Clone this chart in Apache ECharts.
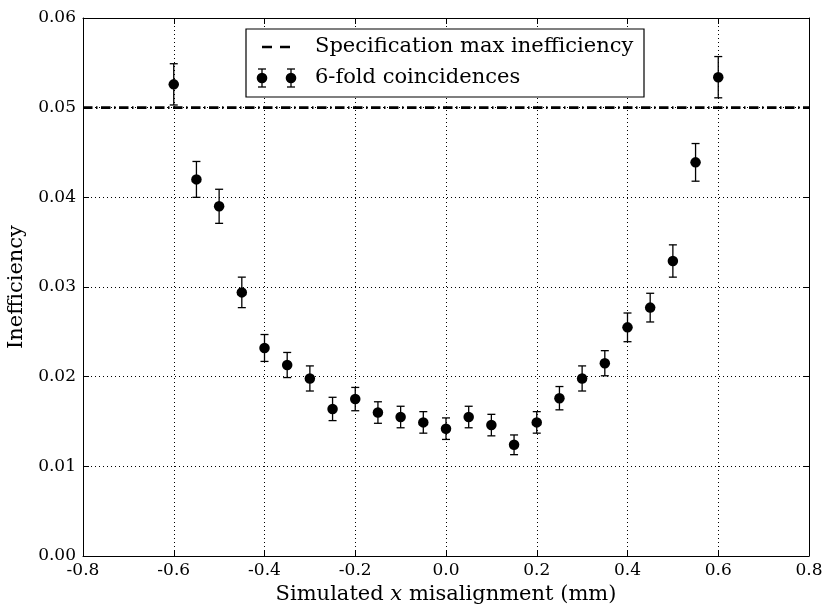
<!DOCTYPE html>
<html>
<head>
<meta charset="utf-8">
<script src="https://cdn.jsdelivr.net/npm/echarts@6/dist/echarts.min.js"></script>
<style>
  html, body { margin: 0; padding: 0; background: #ffffff; }
  #chart { width: 823px; height: 608px; }
</style>
</head>
<body>
<div id="chart"></div>
<script>
// Simulated misalignment (mm)
const misalignment = [-0.6, -0.55, -0.5, -0.45, -0.4, -0.35, -0.3, -0.25, -0.2, -0.15, -0.1, -0.05,
                      0.0, 0.05, 0.1, 0.15, 0.2, 0.25, 0.3, 0.35, 0.4, 0.45, 0.5, 0.55, 0.6];
// 6-fold coincidence inefficiency
const inefficiency = [0.0526, 0.0420, 0.0390, 0.0294, 0.0232, 0.0213, 0.0198, 0.0164, 0.0175, 0.0160, 0.0155, 0.0149,
                      0.0142, 0.0155, 0.0146, 0.0124, 0.0149, 0.0176, 0.0198, 0.0215, 0.0255, 0.0277, 0.0329, 0.0439, 0.0534];
// symmetric statistical uncertainty
const inefficiencyErr = [0.0023, 0.0020, 0.0019, 0.0017, 0.0015, 0.0014, 0.0014, 0.0013, 0.0013, 0.0012, 0.0012, 0.0012,
                         0.0012, 0.0012, 0.0012, 0.0011, 0.0012, 0.0013, 0.0014, 0.0014, 0.0016, 0.0016, 0.0018, 0.0021, 0.0023];
const specMax = 0.05;
const xRange = [-0.8, 0.8];
const xTickLabels = ['-0.8', '-0.6', '-0.4', '-0.2', '0.0', '0.2', '0.4', '0.6', '0.8'];
const yTickLabels = ['0.00', '0.01', '0.02', '0.03', '0.04', '0.05', '0.06'];

const FONT = 'DejaVu Serif';
const TICK_SIZE = 17;
const TITLE_SIZE = 21;
const LEGEND_SIZE = 21;
const chart = echarts.init(document.getElementById('chart'), null, { renderer: 'canvas' });

const points = misalignment.map((x, i) => [x, inefficiency[i]]);
const bars = misalignment.map((x, i) => [x, inefficiency[i] - inefficiencyErr[i], inefficiency[i] + inefficiencyErr[i]]);

const grid = { left: 83, right: 14, top: 18, bottom: 52, containLabel: false, outerBoundsMode: 'none' };

function xAxisBase(pos, showLabels) {
  return {
    type: 'value', position: pos, min: xRange[0], max: xRange[1], interval: 0.2,
    axisLine: { show: true, onZero: false, lineStyle: { color: '#000', width: 1 } },
    axisTick: { show: true, inside: true, length: 6, lineStyle: { color: '#000', width: 1 } },
    axisLabel: {
      show: showLabels, margin: 6, color: '#000', fontFamily: FONT, fontSize: TICK_SIZE,
      formatter: v => xTickLabels[Math.round((v - xRange[0]) / 0.2)]
    },
    splitLine: { show: showLabels, lineStyle: { color: '#000', width: 1, type: [1, 3] } }
  };
}
function yAxisBase(pos, showLabels) {
  return {
    type: 'value', position: pos, min: 0, max: 0.06, interval: 0.01,
    axisLine: { show: true, onZero: false, lineStyle: { color: '#000', width: 1 } },
    axisTick: { show: true, inside: true, length: 6, lineStyle: { color: '#000', width: 1 } },
    axisLabel: {
      show: showLabels, margin: 7, color: '#000', fontFamily: FONT, fontSize: TICK_SIZE,
      formatter: v => yTickLabels[Math.round(v / 0.01)]
    },
    splitLine: { show: showLabels, lineStyle: { color: '#000', width: 1, type: [1, 3] } }
  };
}

const xMain = xAxisBase('bottom', true);
xMain.name = 'Simulated {i|x} misalignment (mm)';
xMain.nameLocation = 'middle';
xMain.nameGap = 27;
xMain.nameTextStyle = {
  color: '#000', fontFamily: FONT, fontSize: TITLE_SIZE, verticalAlign: 'top',
  rich: { i: { fontStyle: 'italic', fontFamily: FONT, fontSize: TITLE_SIZE, color: '#000' } }
};
const yMain = yAxisBase('left', true);
yMain.name = 'Inefficiency';
yMain.nameLocation = 'middle';
yMain.nameGap = 51;
yMain.nameTextStyle = { color: '#000', fontFamily: FONT, fontSize: TITLE_SIZE };

// legend drawn as a framed box in the upper centre
const LX = 246, LY = 29, LW = 398, LH = 68;
const legendFont = LEGEND_SIZE + 'px "' + FONT + '"';
function legendErrMarker(cx, cy) {
  return [
    { type: 'line', shape: { x1: cx, y1: cy - 9, x2: cx, y2: cy + 9 }, style: { stroke: '#000', lineWidth: 1.3 } },
    { type: 'line', shape: { x1: cx - 4, y1: cy - 9, x2: cx + 4, y2: cy - 9 }, style: { stroke: '#000', lineWidth: 1.3 } },
    { type: 'line', shape: { x1: cx - 4, y1: cy + 9, x2: cx + 4, y2: cy + 9 }, style: { stroke: '#000', lineWidth: 1.3 } },
    { type: 'circle', shape: { cx: cx, cy: cy, r: 5.3 }, style: { fill: '#000' } }
  ];
}
const legendGraphics = [
  { type: 'rect', shape: { x: LX, y: LY, width: LW, height: LH }, style: { fill: '#fff', stroke: '#000', lineWidth: 1.2 }, z: 10 },
  { type: 'line', shape: { x1: 262, y1: 47, x2: 272, y2: 47 }, style: { stroke: '#000', lineWidth: 2.5 }, z: 11 },
  { type: 'line', shape: { x1: 280, y1: 47, x2: 290, y2: 47 }, style: { stroke: '#000', lineWidth: 2.5 }, z: 11 },
  { type: 'text', x: 315, y: 47, style: { text: 'Specification max inefficiency', fill: '#000', font: legendFont, verticalAlign: 'middle' }, z: 11 },
  { type: 'text', x: 315, y: 78, style: { text: '6-fold coincidences', fill: '#000', font: legendFont, verticalAlign: 'middle' }, z: 11 }
].concat(legendErrMarker(262, 78).map(g => Object.assign(g, { z: 11 })))
 .concat(legendErrMarker(291, 78).map(g => Object.assign(g, { z: 11 })));

chart.setOption({
  animation: false,
  backgroundColor: '#ffffff',
  grid: grid,
  xAxis: [xMain, xAxisBase('top', false)],
  yAxis: [yMain, yAxisBase('right', false)],
  graphic: legendGraphics,
  series: [
    {
      name: 'Specification max inefficiency',
      type: 'line',
      data: [[xRange[0], specMax], [xRange[1], specMax]],
      symbol: 'none',
      lineStyle: { color: '#000', width: 2.6, type: [9.5, 3.5, 1.5, 3.5] },
      z: 3
    },
    {
      name: 'errors',
      type: 'custom',
      data: bars,
      renderItem: function (params, api) {
        const x = api.value(0);
        const lo = api.coord([x, api.value(1)]);
        const hi = api.coord([x, api.value(2)]);
        const cap = 4;
        const st = { stroke: '#000', lineWidth: 1.3 };
        return {
          type: 'group',
          children: [
            { type: 'line', shape: { x1: lo[0], y1: lo[1], x2: hi[0], y2: hi[1] }, style: st },
            { type: 'line', shape: { x1: lo[0] - cap, y1: lo[1], x2: lo[0] + cap, y2: lo[1] }, style: st },
            { type: 'line', shape: { x1: hi[0] - cap, y1: hi[1], x2: hi[0] + cap, y2: hi[1] }, style: st }
          ]
        };
      },
      z: 4
    },
    {
      name: '6-fold coincidences',
      type: 'scatter',
      data: points,
      symbol: 'circle',
      symbolSize: 10.5,
      itemStyle: { color: '#000', opacity: 1 },
      z: 5
    }
  ]
});
</script>
</body>
</html>
